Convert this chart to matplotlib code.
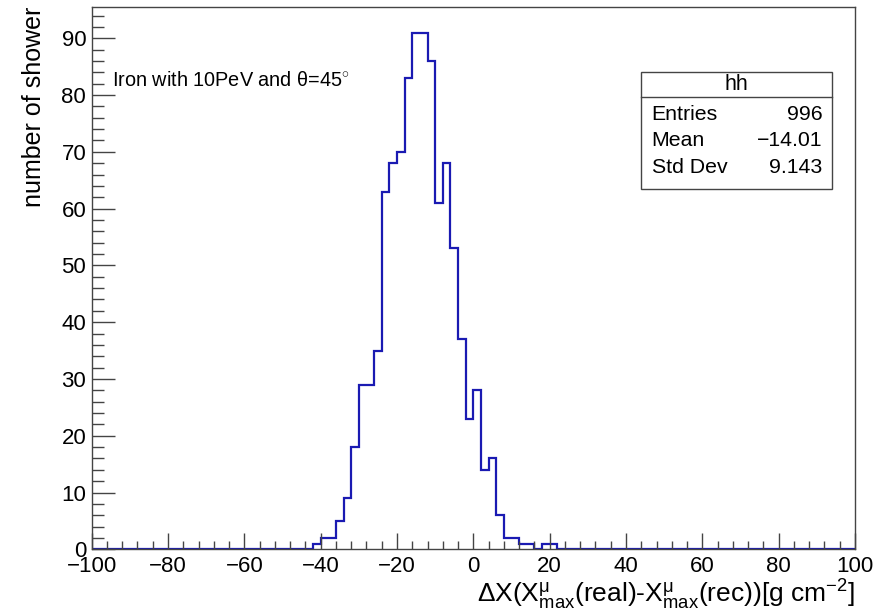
import numpy as np
import matplotlib
matplotlib.use("Agg")
import matplotlib.pyplot as plt
from matplotlib.patches import Rectangle
from matplotlib.ticker import MultipleLocator

plt.rcParams['font.family'] = ['Liberation Sans', 'DejaVu Sans']
plt.rcParams['mathtext.fontset'] = 'custom'
plt.rcParams['mathtext.rm'] = 'Liberation Sans'
plt.rcParams['mathtext.it'] = 'Liberation Sans:italic'
plt.rcParams['mathtext.bf'] = 'Liberation Sans:bold'

# ---- data ----
x_range = [-100, 100]
bin_width = 2
first_bin_low = -42
counts_nonzero = [1, 2, 2, 5, 9, 18, 29, 29, 35, 63, 68, 70, 83, 91, 91, 86,
                  61, 68, 53, 37, 23, 28, 14, 16, 6, 2, 2, 1, 1, 0, 1, 1]
stats_title = "hh"
stats_labels = ["Entries", "Mean", "Std Dev"]
stats_values = ["996", "\u221214.01", "9.143"]
x_ticks = [-100, -80, -60, -40, -20, 0, 20, 40, 60, 80, 100]
y_ticks = [0, 10, 20, 30, 40, 50, 60, 70, 80, 90]

edges = np.arange(x_range[0], x_range[1] + bin_width, bin_width)
counts = np.zeros(len(edges) - 1)
i0 = int((first_bin_low - x_range[0]) / bin_width)
counts[i0:i0 + len(counts_nonzero)] = counts_nonzero

W, H = 884, 612
fig = plt.figure(figsize=(W / 100, H / 100), dpi=100)
ax = fig.add_axes([91.7 / W, 1 - 549.3 / H, (855 - 91.7) / W, (549.3 - 6.7) / H])

ax.stairs(counts, edges, color='#1a1ab2', linewidth=1.6)
ax.set_xlim(x_range)
ax.set_ylim(0, max(counts) * 1.05)

for s in ax.spines.values():
    s.set_color('#444444')
    s.set_linewidth(1.0)

ax.set_xticks(x_ticks)
ax.set_yticks(y_ticks)
ax.xaxis.set_minor_locator(MultipleLocator(4))
ax.yaxis.set_minor_locator(MultipleLocator(2))
ax.tick_params(axis='both', which='both', direction='in', colors='#444444',
               labelcolor='black', labelsize=16, width=1.0,
               top=False, right=False)
ax.tick_params(axis='x', which='major', length=11.5, pad=5)
ax.tick_params(axis='x', which='minor', length=5.8)
ax.tick_params(axis='y', which='major', length=16.8, pad=4)
ax.tick_params(axis='y', which='minor', length=8.3)

ax.set_ylabel("number of shower", fontsize=18, loc='top', labelpad=11)
ax.set_xlabel(r"$\Delta$X(X$^{\mathrm{\mu}}_{\mathrm{max}}$(real)-X$^{\mathrm{\mu}}_{\mathrm{max}}$(rec))[g cm$^{\mathrm{-2}}$]",
              fontsize=19, loc='right', labelpad=0.5)

# annotation
fig.text(111.7 / W, 1 - 86 / H, r"Iron with 10PeV and $\mathrm{\theta}$=45$^{\circ}$",
         fontsize=14.3, va='baseline', ha='left')

# stats box
bx0, bx1, by0, by1 = 641, 832.3, 72.3, 189.3
sep = 97.3
fig.patches.append(Rectangle((bx0 / W, 1 - by1 / H), (bx1 - bx0) / W, (by1 - by0) / H,
                             transform=fig.transFigure, facecolor='white',
                             edgecolor='#444444', linewidth=1.0, zorder=5))
fig.add_artist(plt.Line2D([bx0 / W, bx1 / W], [1 - sep / H, 1 - sep / H],
                          transform=fig.transFigure, color='#444444', linewidth=1.0, zorder=6))
fig.text((bx0 + bx1) / 2 / W, 1 - (by0 + sep) / 2 / H, stats_title, fontsize=15.5,
         ha='center', va='center', zorder=7)
baselines = [120, 146.5, 172.7]
for lab, val, yb in zip(stats_labels, stats_values, baselines):
    fig.text(651.7 / W, 1 - yb / H, lab, fontsize=15.3, ha='left', va='baseline', zorder=7)
    fig.text(822.7 / W, 1 - yb / H, val, fontsize=15.3, ha='right', va='baseline', zorder=7)

fig.savefig("out.png", dpi=100)
